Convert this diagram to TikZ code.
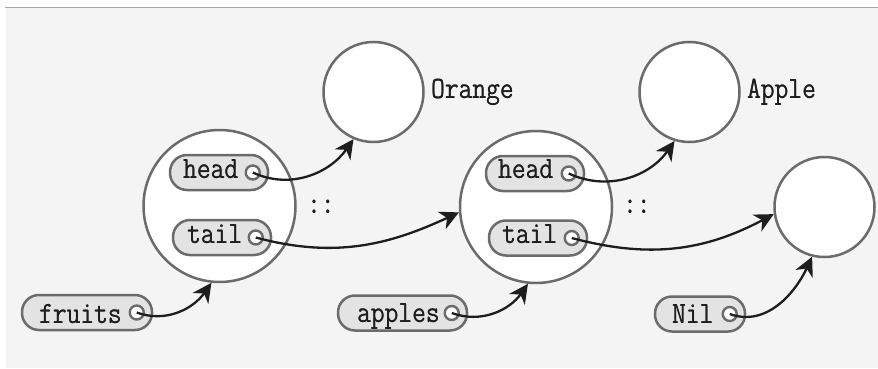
\documentclass[tikz,border=0pt]{standalone}
\usepackage{graphicx}
\usetikzlibrary{arrows.meta}
\definecolor{bgc}{HTML}{F4F4F4}
\definecolor{edge}{HTML}{6B6B6B}
\definecolor{pillfill}{HTML}{E3E3E3}
\definecolor{ink}{HTML}{1E1E1E}
\newcommand{\mylbl}[1]{\scalebox{0.86}[1]{\rlap{#1}\hspace{0.25pt}#1}}
\tikzset{
  big/.style={circle, draw=edge, fill=white, line width=2.5pt, minimum size=152pt, inner sep=0pt},
  val/.style={circle, draw=edge, fill=white, line width=2.5pt, minimum size=100pt, inner sep=0pt},
  pill/.style={rectangle, rounded corners=17pt, draw=edge, fill=pillfill, line width=2.5pt, minimum height=35pt, inner sep=0pt},
  port/.style={circle, draw=edge, fill=white, line width=2.4pt, minimum size=14pt, inner sep=0pt},
  lbl/.style={anchor=base west, inner sep=0pt, text=ink, font=\ttfamily\fontsize{31}{34}\selectfont},
  ptr/.style={draw=ink, line width=2.3pt, -{Stealth[length=19pt,width=19pt,inset=6pt]}}
}
\begin{document}
\begin{tikzpicture}[x=1pt,y=1pt]
\useasboundingbox (0,0) rectangle (878,368);
\fill[white] (0,0) rectangle (878,368);
\fill[bgc] (6,0) rectangle (878,360);
\draw[color=black!35, line width=1.5pt] (5,360.5) -- (878,360.5);

% circles
\node[big] (c1) at (219.5,162) {};
\node[big] (c2) at (536,161) {};
\node[val] (orange) at (373.5,276) {};
\node[val] (apple) at (689.5,276) {};
\node[val] (nilc) at (824.5,161) {};
\node[lbl] (lorange) at (431,270) {\mylbl{Orange}};
\node[lbl] (lapple) at (747,270) {\mylbl{Apple}};
\node[lbl] (cons1) at (307,155) {\mylbl{::}};
\node[lbl] (cons2) at (623,155) {\mylbl{::}};

% pills
\node[pill, minimum width=98pt] (h1) at (219,195.5) {};
\node[pill, minimum width=98pt] (t1) at (222,130.5) {};
\node[pill, minimum width=130pt] (fr) at (87,55.5) {};
\node[pill, minimum width=98pt] (h2) at (535,194.5) {};
\node[pill, minimum width=98pt] (t2) at (538,130) {};
\node[pill, minimum width=129pt] (ap) at (402.5,55) {};
\node[pill, minimum width=90pt] (nl) at (700,54) {};

\node[lbl] (th1) at (183,190) {\mylbl{head}};
\node[lbl] (tt1) at (187,125) {\mylbl{tail}};
\node[lbl] (tfr) at (39,45) {\mylbl{fruits}};
\node[lbl] (th2) at (498,190) {\mylbl{head}};
\node[lbl] (tt2) at (502,125) {\mylbl{tail}};
\node[lbl] (tap) at (357,46) {\mylbl{apples}};
\node[lbl] (tnl) at (672,45) {\mylbl{Nil}};

\node[port] (ph1) at ([xshift=-16.5pt]h1.east) {};
\node[port] (pt1) at ([xshift=-16.5pt]t1.east) {};
\node[port] (pfr) at ([xshift=-16.5pt]fr.east) {};
\node[port] (ph2) at ([xshift=-16.5pt]h2.east) {};
\node[port] (pt2) at ([xshift=-16.5pt]t2.east) {};
\node[port] (pap) at ([xshift=-16.5pt]ap.east) {};
\node[port] (pnl) at ([xshift=-16.5pt]nl.east) {};

% pointers
\draw[ptr] (ph1.center) to[out=-25,in=235] (orange.-113);
\draw[ptr] (pt1.center) to[out=-15,in=205] (c2.184);
\draw[ptr] (pfr.center) to[out=-20,in=235] (c1.-96);
\draw[ptr] (ph2.center) to[out=-25,in=235] (apple.-107);
\draw[ptr] (pt2.center) to[out=-15,in=208] (nilc.188);
\draw[ptr] (pap.center) to[out=-20,in=235] (c2.-96);
\draw[ptr] (pnl.center) to[out=-20,in=245] (nilc.-104);
\end{tikzpicture}
\end{document}
